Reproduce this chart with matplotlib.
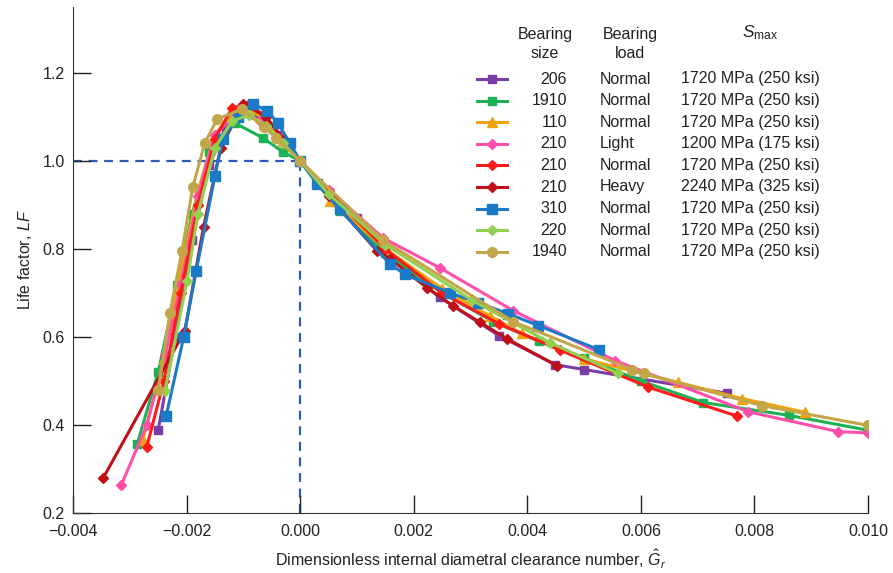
import numpy as np
import matplotlib.pyplot as plt
from matplotlib.lines import Line2D

plt.rcParams['font.family'] = ['Liberation Sans', 'DejaVu Sans']
plt.rcParams['mathtext.fontset'] = 'custom'
plt.rcParams['mathtext.rm'] = 'Liberation Sans'
plt.rcParams['mathtext.it'] = 'Liberation Sans:italic'

# Bearing data
sizes = ['206', '1910', '110', '210', '210', '210', '310', '220', '1940']
loads = ['Normal', 'Normal', 'Normal', 'Light', 'Normal', 'Heavy', 'Normal', 'Normal', 'Normal']
smax = ['1720 MPa (250 ksi)', '1720 MPa (250 ksi)', '1720 MPa (250 ksi)', '1200 MPa (175 ksi)',
        '1720 MPa (250 ksi)', '2240 MPa (325 ksi)', '1720 MPa (250 ksi)', '1720 MPa (250 ksi)',
        '1720 MPa (250 ksi)']

x_206 = [-0.0025, -0.0022, -0.0019, -0.0016, -0.0013, -0.0010, -0.0007, -0.0004, 0.0, 0.0005, 0.0010,
         0.00194, 0.00246, 0.0035, 0.00449, 0.0050, 0.00752]
y_206 = [0.388, 0.60, 0.82, 0.99, 1.08, 1.11, 1.10, 1.06, 1.0, 0.93, 0.87, 0.744, 0.69, 0.603, 0.537, 0.526, 0.472]

x_1910 = [-0.00287, -0.0025, -0.00217, -0.0019, -0.0016, -0.00115, -0.00065, -0.0003, 0.0, 0.0007, 0.0015,
          0.0025, 0.0034, 0.0042, 0.0050, 0.0060, 0.0071, 0.0086, 0.0100]
y_1910 = [0.356, 0.52, 0.717, 0.88, 1.02, 1.086, 1.052, 1.02, 1.0, 0.887, 0.79, 0.70, 0.635, 0.59, 0.553, 0.50,
          0.451, 0.422, 0.388]

x_110 = [-0.00277, -0.0024, -0.0021, -0.0018, -0.0015, -0.0012, -0.0009, -0.0006, -0.0003, 0.0, 0.00053, 0.0015,
         0.0025, 0.00334, 0.0039, 0.0050, 0.00665, 0.00778, 0.00889]
y_110 = [0.365, 0.55, 0.75, 0.93, 1.06, 1.11, 1.12, 1.09, 1.045, 1.0, 0.91, 0.80, 0.71, 0.648, 0.608, 0.55, 0.497,
         0.46, 0.429]

x_210l = [-0.00315, -0.0027, -0.00238, -0.0021, -0.0018, -0.0015, -0.0011, -0.0007, -0.0003, 0.0, 0.0005, 0.00146,
          0.00246, 0.00375, 0.00555, 0.00789, 0.00947, 0.0100]
y_210l = [0.263, 0.40, 0.558, 0.72, 0.92, 1.06, 1.11, 1.09, 1.04, 1.0, 0.935, 0.825, 0.757, 0.66, 0.546, 0.43,
          0.385, 0.382]

x_210n = [-0.0027, -0.0024, -0.0021, -0.0018, -0.0015, -0.0012, -0.0009, -0.0006, -0.0003, 0.0, 0.0005, 0.0015,
          0.0025, 0.0035, 0.00458, 0.00613, 0.0077]
y_210n = [0.35, 0.50, 0.70, 0.90, 1.05, 1.12, 1.13, 1.10, 1.05, 1.0, 0.93, 0.80, 0.70, 0.63, 0.57, 0.486, 0.42]

x_210h = [-0.00347, -0.00203, -0.0017, -0.0014, -0.0010, -0.0006, -0.0003, 0.0, 0.0005, 0.00135, 0.00158,
          0.00223, 0.00269, 0.00317, 0.00364, 0.00452]
y_210h = [0.279, 0.614, 0.85, 1.03, 1.13, 1.10, 1.05, 1.0, 0.92, 0.796, 0.778, 0.712, 0.671, 0.633, 0.596, 0.535]

x_310 = [-0.00236, -0.00205, -0.00183, -0.0015, -0.00136, -0.0011, -0.00083, -0.00058, -0.00039, -0.00018, 0.0,
         0.0003, 0.0007, 0.00158, 0.00185, 0.00264, 0.00313, 0.00366, 0.00419, 0.00526]
y_310 = [0.42, 0.60, 0.75, 0.966, 1.05, 1.10, 1.13, 1.113, 1.086, 1.04, 1.0, 0.948, 0.89, 0.766, 0.742, 0.70,
         0.678, 0.653, 0.626, 0.571]

x_220 = [-0.00238, -0.00199, -0.0018, -0.0015, -0.0012, -0.0009, -0.0006, -0.0003, 0.0, 0.0005, 0.0015, 0.00303,
         0.0044, 0.0056]
y_220 = [0.478, 0.728, 0.88, 1.03, 1.09, 1.105, 1.08, 1.04, 1.0, 0.925, 0.81, 0.683, 0.587, 0.517]

x_1940 = [-0.0025, -0.00229, -0.00208, -0.00189, -0.00168, -0.00146, -0.00102, -0.00064, -0.00042, 0.0, 0.00146,
          0.00375, 0.00584, 0.00605, 0.00813, 0.0100]
y_1940 = [0.48, 0.655, 0.796, 0.941, 1.04, 1.095, 1.118, 1.077, 1.052, 1.0, 0.82, 0.635, 0.526, 0.517, 0.444, 0.399]

series_x = [x_206, x_1910, x_110, x_210l, x_210n, x_210h, x_310, x_220, x_1940]
series_y = [y_206, y_1910, y_110, y_210l, y_210n, y_210h, y_310, y_220, y_1940]
colors = ['#7A3DA8', '#1DB155', '#F0A30A', '#FF4FAA', '#FF1A1A', '#C00F17', '#1A7AC8', '#92D050', '#C4A64A']
markers = ['s', 's', '^', 'D', 'D', 'D', 's', 'D', 'o']
msizes = [6, 6, 7, 5, 5, 5, 7, 5, 7]

fig = plt.figure(figsize=(8.93, 5.73), dpi=100)
ax = fig.add_axes([0.0817, 0.1047, 0.8904, 0.8833])

# reference dashed lines
ax.plot([-0.004, 0.0], [1.0, 1.0], ls=(0, (4, 3)), color='#2A5CB8', lw=1.6, zorder=1)
ax.plot([0.0, 0.0], [0.2, 1.0], ls=(0, (4, 3)), color='#2A5CB8', lw=1.6, zorder=1)

for xs, ys, c, m, ms in zip(series_x, series_y, colors, markers, msizes):
    ax.plot(xs, ys, color=c, marker=m, markersize=ms, lw=2.2, zorder=2)

ax.set_xlim(-0.004, 0.010)
ax.set_ylim(0.2, 1.35)
ax.set_xticks(np.arange(-0.004, 0.0101, 0.002))
ax.set_xticklabels(['\u22120.004', '\u22120.002', '0.000', '0.002', '0.004', '0.006', '0.008', '0.010'])
ax.set_yticks([0.2, 0.4, 0.6, 0.8, 1.0, 1.2])
ax.set_yticklabels(['0.2', '0.4', '0.6', '0.8', '1.0', '1.2'])
ax.tick_params(direction='in', length=13, width=1, labelsize=11.5, colors='#222222')
ax.tick_params(axis='x', pad=8)
ax.tick_params(axis='y', pad=6)
ax.spines['top'].set_visible(False)
ax.spines['right'].set_visible(False)
ax.spines['left'].set_color('#333333')
ax.spines['bottom'].set_color('#333333')
ax.set_xlabel('Dimensionless internal diametral clearance number, $\\hat{G}_r$', fontsize=11.5,
              color='#222222', labelpad=6)
ax.set_ylabel('Life factor, $LF$', fontsize=11.5, color='#222222', labelpad=6)

# custom legend table (figure pixel layout)
W, H = 893.0, 573.0
def fx(px):
    return px / W
def fy(py):
    return 1 - py / H

fig.text(fx(545), fy(44), 'Bearing\nsize', ha='center', va='center', fontsize=11.5, color='#222222',
         linespacing=1.25)
fig.text(fx(630), fy(44), 'Bearing\nload', ha='center', va='center', fontsize=11.5, color='#222222',
         linespacing=1.25)
fig.text(fx(760), fy(33), '$S_{\\mathrm{max}}$', ha='center', va='center', fontsize=12.5, color='#222222')

row_y0, row_dy = 79, 21.6
for i in range(len(sizes)):
    py = row_y0 + i * row_dy
    fig.add_artist(Line2D([fx(477), fx(492), fx(507)], [fy(py)] * 3, color=colors[i], lw=2.2,
                          marker=markers[i], markersize=msizes[i], markevery=[1]))
    fig.text(fx(567), fy(py), sizes[i], ha='right', va='center', fontsize=11.5, color='#222222')
    fig.text(fx(600), fy(py), loads[i], ha='left', va='center', fontsize=11.5, color='#222222')
    fig.text(fx(681), fy(py), smax[i], ha='left', va='center', fontsize=11.5, color='#222222')

fig.savefig('out.png', dpi=100)
